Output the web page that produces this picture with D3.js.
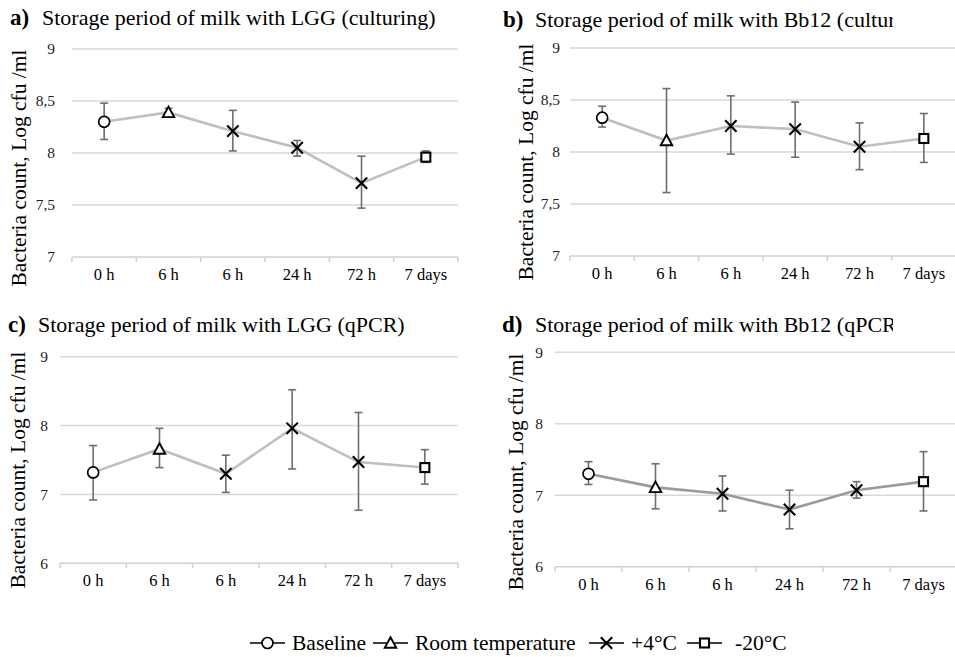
<!DOCTYPE html>
<html><head><meta charset="utf-8">
<script src="https://cdn.jsdelivr.net/npm/d3@7"></script>
<style>body{margin:0;background:#fff}svg{display:block}</style>
</head><body>
<svg id="c" width="955" height="657"></svg>
<script>
const categories = ["0 h","6 h","6 h","24 h","72 h","7 days"];
const markerTypes = ["circle","triangle","x","x","x","square"];
const legendLabels = ["Baseline","Room temperature","+4°C","-20°C"];
const legendMarkers = ["circle","triangle","x","square"];

const titlesA = ["a)","Storage period of milk with LGG (culturing)"];
const titlesB = ["b)","Storage period of milk with Bb12 (culturing)"];
const titlesC = ["c)","Storage period of milk with LGG (qPCR)"];
const titlesD = ["d)","Storage period of milk with Bb12 (qPCR)"];

const meanA = [8.30, 8.39, 8.21, 8.05, 7.71, 7.96];
const lowA  = [8.13, 8.36, 8.02, 7.97, 7.47, 7.91];
const highA = [8.48, 8.43, 8.41, 8.12, 7.97, 8.02];

const meanB = [8.33, 8.11, 8.25, 8.22, 8.05, 8.13];
const lowB  = [8.24, 7.61, 7.98, 7.95, 7.83, 7.90];
const highB = [8.44, 8.61, 8.54, 8.48, 8.28, 8.37];

const meanC = [7.32, 7.66, 7.30, 7.96, 7.47, 7.39];
const lowC  = [6.92, 7.39, 7.03, 7.37, 6.77, 7.15];
const highC = [7.71, 7.96, 7.57, 8.52, 8.19, 7.65];

const meanD = [7.30, 7.11, 7.02, 6.80, 7.07, 7.19];
const lowD  = [7.15, 6.81, 6.78, 6.53, 6.96, 6.78];
const highD = [7.47, 7.44, 7.27, 7.07, 7.19, 7.61];

const yTicksAB = [7, 7.5, 8, 8.5, 9];
const yTicksCD = [6, 7, 8, 9];
const yTitle = "Bacteria count, Log cfu /ml";

const FONT = "'Liberation Serif', 'DejaVu Serif', serif";
const svg = d3.select("#c");

const panels = [
  {t:titlesA, m:meanA, lo:lowA, hi:highA, ticks:yTicksAB, dom:[7,9], x0:72, x1:458, y0:257, y1:49,
   labX:10, titX:42, titY:25, clip:null, ylabR:55, yTitX:26, yTitY:168, line:"#bfbfbf"},
  {t:titlesB, m:meanB, lo:lowB, hi:highB, ticks:yTicksAB, dom:[7,9], x0:570, x1:956, y0:256, y1:48,
   labX:503, titX:535, titY:27, clip:893, ylabR:560, yTitX:533, yTitY:162, line:"#bfbfbf"},
  {t:titlesC, m:meanC, lo:lowC, hi:highC, ticks:yTicksCD, dom:[6,9], x0:60, x1:458, y0:563.3, y1:356.7,
   labX:8, titX:38, titY:332, clip:null, ylabR:48, yTitX:25, yTitY:470, line:"#bfbfbf"},
  {t:titlesD, m:meanD, lo:lowD, hi:highD, ticks:yTicksCD, dom:[6,9], x0:555, x1:957, y0:566.7, y1:352.3,
   labX:502, titX:535, titY:332, clip:893, ylabR:543, yTitX:523, yTitY:472, line:"#9a9a9a"}
];

function drawMarker(g, type, x, y) {
  if (type === "circle") {
    g.append("circle").attr("cx", x).attr("cy", y).attr("r", 5.5)
      .attr("fill", "#fff").attr("stroke", "#000").attr("stroke-width", 1.7);
  } else if (type === "triangle") {
    const h = 10.5, w = 11.5;
    g.append("path").attr("d", `M${x},${y-h*0.55}L${x+w/2},${y+h*0.45}L${x-w/2},${y+h*0.45}Z`)
      .attr("fill", "#fff").attr("stroke", "#000").attr("stroke-width", 1.9);
  } else if (type === "square") {
    const a = 9;
    g.append("rect").attr("x", x-a/2).attr("y", y-a/2).attr("width", a).attr("height", a)
      .attr("fill", "#fff").attr("stroke", "#000").attr("stroke-width", 2.1);
  } else {
    const a = 5.7;
    g.append("path").attr("d", `M${x-a},${y-a}L${x+a},${y+a}M${x-a},${y+a}L${x+a},${y-a}`)
      .attr("stroke", "#000").attr("stroke-width", 2.1).attr("fill", "none");
  }
}

panels.forEach((p, i) => {
  const g = svg.append("g");
  const x = d3.scaleBand().domain(d3.range(categories.length)).range([p.x0, p.x1]);
  const y = d3.scaleLinear().domain(p.dom).range([p.y0, p.y1]);

  // title
  let tg = g;
  if (p.clip) {
    const id = "clip" + i;
    svg.append("defs").append("clipPath").attr("id", id).append("rect")
      .attr("x", p.labX - 5).attr("y", p.titY - 30).attr("width", p.clip - p.labX + 5).attr("height", 40);
    tg = g.append("g").attr("clip-path", `url(#${id})`);
  }
  tg.append("text").attr("x", p.labX).attr("y", p.titY).attr("font-family", FONT)
    .attr("font-size", 23).attr("font-weight", "bold").attr("fill", "#000").text(p.t[0]);
  tg.append("text").attr("x", p.titX).attr("y", p.titY).attr("font-family", FONT)
    .attr("font-size", 22).attr("fill", "#000").text(p.t[1]);

  // gridlines
  g.selectAll(".grid").data(p.ticks.filter(t => t !== p.dom[0])).enter().append("line")
    .attr("x1", p.x0).attr("x2", p.x1).attr("y1", d => y(d)).attr("y2", d => y(d))
    .attr("stroke", "#d9d9d9").attr("stroke-width", 1.5);

  // y tick labels
  g.selectAll(".yl").data(p.ticks).enter().append("text")
    .attr("x", p.ylabR).attr("y", d => y(d)).attr("dy", "0.35em").attr("text-anchor", "end")
    .attr("font-family", FONT).attr("font-size", 15.5).attr("fill", "#222")
    .text(d => String(d).replace(".", ","));

  // x axis
  const xa = g.append("g").attr("transform", `translate(0,${p.y0})`);
  xa.append("line").attr("x1", p.x0).attr("x2", p.x1).attr("stroke", "#d0d0d0").attr("stroke-width", 1.5);
  const bounds = d3.range(categories.length + 1).map(k => k < categories.length ? x(k) : x(k-1) + x.bandwidth());
  xa.selectAll(".tk").data(bounds).enter().append("line")
    .attr("x1", d => d).attr("x2", d => d).attr("y1", 0).attr("y2", 5)
    .attr("stroke", "#d0d0d0").attr("stroke-width", 1.5);
  xa.selectAll(".xl").data(categories).enter().append("text")
    .attr("x", (d, k) => x(k) + x.bandwidth()/2).attr("y", 23).attr("text-anchor", "middle")
    .attr("font-family", FONT).attr("font-size", 16.5).attr("fill", "#000").text(d => d);

  // y title
  g.append("text").attr("transform", `translate(${p.yTitX},${p.yTitY}) rotate(-90)`)
    .attr("text-anchor", "middle").attr("font-family", FONT).attr("font-size", 21.5).attr("fill", "#000")
    .text(yTitle);

  const cx = k => x(k) + x.bandwidth()/2;
  // line
  g.append("path").datum(p.m).attr("fill", "none").attr("stroke", p.line).attr("stroke-width", 2.6)
    .attr("d", d3.line().x((d, k) => cx(k)).y(d => y(d)));

  // error bars
  p.m.forEach((v, k) => {
    const e = g.append("g").attr("stroke", "#6e6e6e").attr("stroke-width", 1.6);
    e.append("line").attr("x1", cx(k)).attr("x2", cx(k)).attr("y1", y(p.lo[k])).attr("y2", y(p.hi[k]));
    e.append("line").attr("x1", cx(k)-4).attr("x2", cx(k)+4).attr("y1", y(p.lo[k])).attr("y2", y(p.lo[k]));
    e.append("line").attr("x1", cx(k)-4).attr("x2", cx(k)+4).attr("y1", y(p.hi[k])).attr("y2", y(p.hi[k]));
  });

  // markers
  p.m.forEach((v, k) => drawMarker(g, markerTypes[k], cx(k), y(v)));
});

// legend
const legX = [250, 373, 589, 687];
const ly = 643;
const lg = svg.append("g");
legendLabels.forEach((lab, k) => {
  const x0 = legX[k];
  lg.append("line").attr("x1", x0).attr("x2", x0 + 35).attr("y1", ly).attr("y2", ly)
    .attr("stroke", "#000").attr("stroke-width", 1.6);
  drawMarker(lg, legendMarkers[k], x0 + 17.5, ly);
  lg.append("text").attr("x", x0 + (k === 3 ? 48 : 42)).attr("y", ly).attr("dy", "0.33em")
    .attr("font-family", FONT).attr("font-size", 21.5).attr("fill", "#000").text(lab);
});
</script>
</body></html>
